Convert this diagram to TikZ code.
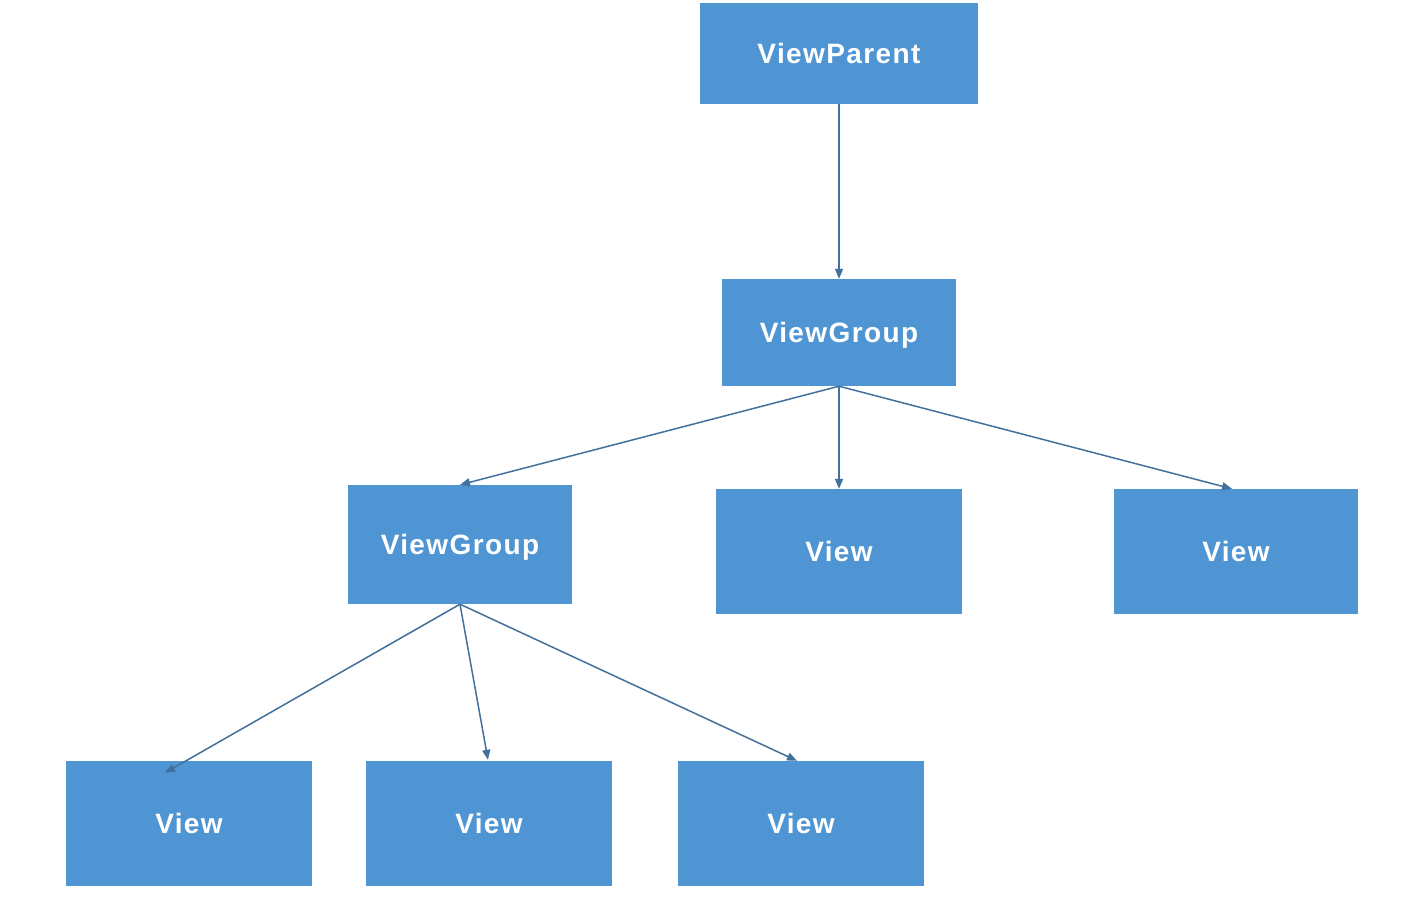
\documentclass[tikz,border=0pt]{standalone}
\usepackage{fontspec}
\setmainfont{Liberation Sans}
\newfontfamily\boxfont[LetterSpace=5]{Liberation Sans}
\usetikzlibrary{arrows.meta,calc}
\definecolor{boxblue}{HTML}{4F95D3}
\definecolor{linkblue}{HTML}{41719C}
\tikzset{
  box/.style={fill=boxblue, draw=none, inner sep=0pt, text=white, text depth=0pt,
    font=\boxfont\bfseries\fontsize{28}{30}\selectfont},
  link/.style={draw=linkblue, line width=1.5pt, -{Triangle[length=10pt,width=8pt]}}
}
\begin{document}
\begin{tikzpicture}[x=1pt,y=-1pt]
\useasboundingbox (0,0) rectangle (1424,900);
\fill[white] (0,0) rectangle (1424,900);
% boxes
\node[box, minimum width=278pt, minimum height=101pt] (vp) at (839,53.5) {ViewParent};
\node[box, minimum width=234pt, minimum height=107pt] (vg1) at (839,332.5) {ViewGroup};
\node[box, minimum width=224pt, minimum height=119pt] (vg2) at (460,544.5) {ViewGroup};
\node[box, minimum width=246pt, minimum height=125pt] (vm) at (839,551.5) {View};
\node[box, minimum width=244pt, minimum height=125pt] (vr) at (1236,551.5) {View};
\node[box, minimum width=246pt, minimum height=125pt] (b1) at (189,823.5) {View};
\node[box, minimum width=246pt, minimum height=125pt] (b2) at (489,823.5) {View};
\node[box, minimum width=246pt, minimum height=125pt] (b3) at (801,823.5) {View};
% arrow end points
\coordinate (e1) at ($(b1.north)+(-24,12)$);
\coordinate (e2) at ($(b2.north)+(-1,-1)$);
\coordinate (e3) at ($(b3.north)+(-4,0)$);
\coordinate (er) at ($(vr.north)+(-4,0)$);
% connectors
\draw[link] (vp.south) -- (vg1.north);
\draw[link] (vg1.south) -- (vg2.north);
\draw[link] (vg1.south) -- (vm.north);
\draw[link] (vg1.south) -- (er);
\draw[link] (vg2.south) -- (e1);
\draw[link] (vg2.south) -- (e2);
\draw[link] (vg2.south) -- (e3);
\end{tikzpicture}
\end{document}
